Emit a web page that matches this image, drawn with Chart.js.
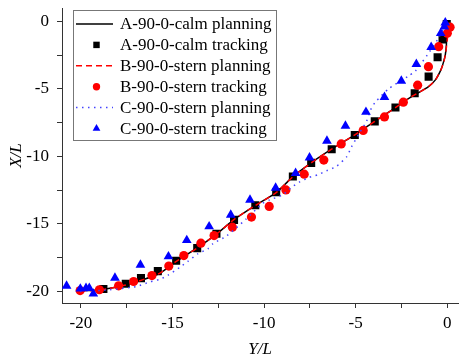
<!DOCTYPE html>
<html><head><meta charset="utf-8">
<script src="https://cdn.jsdelivr.net/npm/chart.js@4/dist/chart.umd.min.js"></script>
<style>html,body{margin:0;padding:0;background:#fff}#wrap{width:464px;height:361px}</style>
</head><body><div id="wrap"><canvas id="c" width="464" height="361"></canvas></div>
<script>
const seriesNames = ["A-90-0-calm planning","A-90-0-calm tracking","B-90-0-stern planning","B-90-0-stern tracking","C-90-0-stern planning","C-90-0-stern tracking"];
const xTickValues = [-20,-17.5,-15,-12.5,-10,-7.5,-5,-2.5,0];
const yTickValues = [0,-2.5,-5,-7.5,-10,-12.5,-15,-17.5,-20];

const aPlanX = [-20.04,-19.23,-18.41,-17.48,-16.61,-15.69,-14.79,-13.67,-12.58,-11.63,-10.51,-9.34,-8.44,-7.43,-6.32,-5.07,-3.96,-2.81,-2.29,-1.74,-1.06,-0.65,-0.35,-0.22,-0.11,-0.05,-0.03,-0.01];
const aPlanY = [-19.93,-19.91,-19.76,-19.50,-19.13,-18.65,-17.77,-16.79,-15.73,-14.66,-13.66,-12.68,-11.52,-10.48,-9.47,-8.42,-7.41,-6.38,-5.86,-5.41,-4.88,-4.34,-3.60,-3.08,-2.49,-1.75,-0.87,-0.05];

const aTrackX = [-18.77,-17.55,-16.72,-15.80,-14.80,-13.65,-12.60,-11.64,-10.48,-9.34,-8.43,-7.43,-6.31,-5.05,-3.96,-2.83,-1.78,-1.02,-0.53,-0.26,-0.03];
const aTrackY = [-19.82,-19.43,-19.01,-18.49,-17.73,-16.79,-15.73,-14.70,-13.62,-12.66,-11.49,-10.48,-9.47,-8.42,-7.41,-6.38,-5.33,-4.10,-2.66,-1.35,-0.20];

const bPlanX = [-20.04,-19.23,-18.41,-17.48,-16.61,-15.69,-14.79,-13.67,-12.58,-11.63,-10.51,-9.34,-8.44,-7.43,-6.32,-5.07,-3.96,-2.81,-2.29,-1.74,-1.06,-0.65,-0.35,-0.20,-0.10,-0.03,0.03,0.05];
const bPlanY = [-19.95,-19.92,-19.76,-19.50,-19.12,-18.64,-17.77,-16.79,-15.73,-14.66,-13.66,-12.68,-11.52,-10.48,-9.47,-8.42,-7.41,-6.38,-5.86,-5.41,-4.88,-4.34,-3.60,-3.05,-2.45,-1.70,-0.95,-0.60];

const bTrackX = [-20.04,-18.99,-17.94,-17.12,-16.12,-15.20,-14.38,-13.45,-12.73,-11.73,-10.69,-9.72,-8.81,-7.81,-6.74,-5.79,-4.59,-3.43,-2.40,-1.62,-1.03,-0.47,0.00,0.15];
const bTrackY = [-19.93,-19.87,-19.58,-19.26,-18.82,-18.12,-17.34,-16.42,-15.86,-15.24,-14.49,-13.70,-12.48,-11.32,-10.27,-9.08,-8.08,-7.08,-5.99,-4.73,-3.36,-1.88,-0.89,-0.44];

const cPlanX = [-20.04,-18.41,-16.94,-16.23,-15.69,-15.25,-14.60,-14.16,-13.62,-13.07,-12.80,-12.04,-11.00,-10.08,-9.69,-8.99,-8.50,-8.06,-7.52,-7.08,-6.59,-6.05,-5.50,-5.23,-4.79,-4.41,-4.19,-3.92,-3.21,-2.12,-1.74,-1.09,-0.54,-0.16,-0.05];
const cPlanY = [-19.99,-19.87,-19.62,-19.28,-19.10,-18.80,-18.21,-17.77,-17.21,-16.84,-16.47,-15.88,-14.66,-13.48,-13.22,-12.85,-12.29,-11.89,-11.55,-11.37,-11.07,-10.74,-10.04,-9.30,-8.26,-7.41,-6.56,-5.97,-5.01,-4.05,-3.68,-2.49,-1.38,-0.42,0.02];

const cTrackX = [-20.78,-20.03,-19.72,-19.54,-19.32,-18.14,-16.75,-15.22,-14.22,-13.00,-11.82,-10.77,-9.37,-8.28,-7.52,-6.57,-5.56,-4.44,-3.43,-2.51,-1.69,-0.88,-0.36,-0.16,-0.11];
const cTrackY = [-19.58,-19.80,-19.75,-19.75,-20.17,-18.99,-18.03,-17.41,-16.21,-15.19,-14.33,-13.22,-12.33,-11.24,-10.09,-8.85,-7.74,-6.72,-5.62,-4.42,-3.18,-1.92,-0.89,-0.40,-0.10];

const pts = (xs, ys) => xs.map((x, i) => ({x: x, y: ys[i]}));
const serif = "'Liberation Serif','Times New Roman',serif";

const datasets = [
  {label: seriesNames[0], data: pts(aPlanX, aPlanY), showLine: true, borderColor: '#000', borderWidth: 1.5, pointRadius: 0, tension: 0.2, order: 6, legendKind: 'line'},
  {label: seriesNames[1], data: pts(aTrackX, aTrackY), showLine: false, pointStyle: 'rect', pointRadius: 5.7, backgroundColor: '#000', borderColor: '#000', borderWidth: 0, order: 5, legendKind: 'point'},
  {label: seriesNames[2], data: pts(bPlanX, bPlanY), showLine: true, borderColor: '#ff0000', borderWidth: 1.5, borderDash: [6, 4], pointRadius: 0, tension: 0.2, order: 4, legendKind: 'line'},
  {label: seriesNames[3], data: pts(bTrackX, bTrackY), showLine: false, pointStyle: 'circle', pointRadius: 4.6, backgroundColor: '#ff0000', borderColor: '#ff0000', borderWidth: 0, order: 3, legendKind: 'point'},
  {label: seriesNames[4], data: pts(cPlanX, cPlanY), showLine: true, borderColor: '#4444ff', borderWidth: 1.5, borderDash: [1.5, 4.5], pointRadius: 0, tension: 0.2, order: 2, legendKind: 'line'},
  {label: seriesNames[5], data: pts(cTrackX, cTrackY), showLine: false, pointStyle: 'triangle', pointRadius: 5.6, backgroundColor: '#0000ff', borderColor: '#0000ff', borderWidth: 0, order: 1, legendKind: 'point'}
];

const legendPlugin = {
  id: 'boxLegend',
  afterDatasetsDraw(chart) {
    const ctx = chart.ctx;
    const bx = 73.5, by = 10.5, bw = 203, bh = 130;
    ctx.save();
    ctx.fillStyle = '#fff';
    ctx.fillRect(bx, by, bw, bh);
    ctx.strokeStyle = '#777';
    ctx.lineWidth = 1;
    ctx.strokeRect(bx, by, bw, bh);
    ctx.font = '17px ' + serif;
    ctx.textBaseline = 'middle';
    ctx.textAlign = 'left';
    chart.data.datasets.forEach((ds, i) => {
      const y = 24 + i * 20.9;
      if (ds.legendKind === 'line') {
        ctx.save();
        ctx.strokeStyle = ds.borderColor;
        ctx.lineWidth = ds.borderWidth;
        ctx.setLineDash(ds.borderDash || []);
        ctx.beginPath();
        ctx.moveTo(76, y);
        ctx.lineTo(113, y);
        ctx.stroke();
        ctx.restore();
      } else {
        ctx.save();
        ctx.fillStyle = ds.backgroundColor;
        ctx.strokeStyle = ds.borderColor;
        Chart.helpers.drawPoint(ctx, {pointStyle: ds.pointStyle, radius: ds.pointRadius * 0.8, borderWidth: 0, rotation: 0}, 96.5, y);
        ctx.restore();
      }
      ctx.fillStyle = '#000';
      ctx.fillText(ds.label, 120, y + 1);
    });
    ctx.restore();
  }
};

new Chart(document.getElementById('c'), {
  type: 'scatter',
  data: {datasets: datasets},
  plugins: [legendPlugin],
  options: {
    responsive: false,
    animation: false,
    devicePixelRatio: 1,
    layout: {padding: {top: 8, right: 5, left: 0, bottom: 0}},
    plugins: {legend: {display: false}, tooltip: {enabled: false}},
    scales: {
      x: {
        type: 'linear', min: -21.03, max: 0.6,
        afterBuildTicks: s => { s.ticks = xTickValues.map(v => ({value: v})); },
        afterFit: s => { s.height = 58; s.paddingLeft = 0; s.paddingRight = 0; },
        grid: {drawOnChartArea: false, drawTicks: true, tickLength: 5, color: '#333', tickColor: '#333'},
        border: {display: true, color: '#333', width: 1},
        ticks: {autoSkip: false, maxRotation: 0, padding: 5, color: '#000', font: {family: serif, size: 17},
          callback: v => (v % 5 === 0 ? String(v) : '')},
        title: {display: true, text: 'Y/L', color: '#000', font: {family: serif, size: 17, style: 'italic'}, padding: {top: 0, bottom: 1}}
      },
      y: {
        type: 'linear', min: -20.85, max: 0.98,
        afterBuildTicks: s => { s.ticks = yTickValues.map(v => ({value: v})); },
        afterFit: s => { s.width = 62; s.paddingTop = 0; s.paddingBottom = 0; },
        grid: {drawOnChartArea: false, drawTicks: true, tickLength: 5, color: '#333', tickColor: '#333'},
        border: {display: true, color: '#333', width: 1},
        ticks: {autoSkip: false, padding: 8, color: '#000', font: {family: serif, size: 17},
          callback: v => (v % 5 === 0 ? String(v) : '')},
        title: {display: true, text: 'X/L', color: '#000', font: {family: serif, size: 17, style: 'italic'}, padding: {top: 6, bottom: 0}}
      }
    }
  }
});
</script>
</body></html>
